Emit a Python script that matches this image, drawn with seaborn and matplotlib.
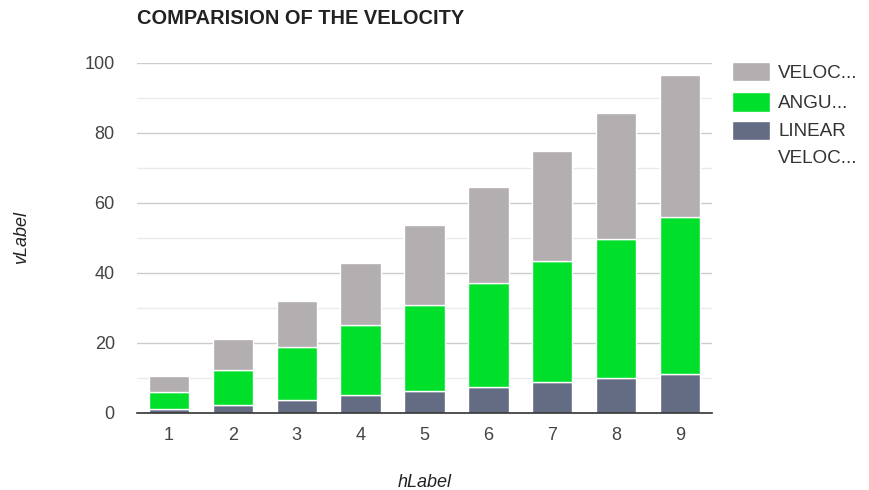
import matplotlib
matplotlib.use("Agg")
import matplotlib.pyplot as plt
import seaborn as sns
import pandas as pd
from matplotlib.patches import Patch, Rectangle
from matplotlib.legend_handler import HandlerPatch
from matplotlib.ticker import MultipleLocator

categories = ["1", "2", "3", "4", "5", "6", "7", "8", "9"]
linear_velocity = [1.0, 2.3, 3.7, 5.0, 6.2, 7.4, 8.8, 9.9, 11.1]
angular = [5.0, 10.0, 15.1, 20.0, 24.7, 29.6, 34.5, 39.6, 44.7]
velocity = [4.4, 8.8, 13.0, 17.7, 22.6, 27.4, 31.6, 36.2, 40.6]
series_labels = ["VELOC...", "ANGU...", "LINEAR\nVELOC..."]

c_vel = "#b3aeaf"
c_ang = "#00e02a"
c_lin = "#636c82"

sns.set_theme(style="white")
plt.rcParams['font.family'] = ['Liberation Sans', 'DejaVu Sans']

df = pd.DataFrame({"cat": categories, "lin": linear_velocity, "ang": angular, "vel": velocity})
df["b_ang"] = df["lin"]
df["b_vel"] = df["lin"] + df["ang"]

fig = plt.figure(figsize=(8.69, 4.9), dpi=100)
ax = fig.add_axes([137/869, 77.3/490, 575/869, 350/490])

common = dict(data=df, x="cat", width=0.63, edgecolor="white", linewidth=1.0, ax=ax)
sns.barplot(y="lin", color=c_lin, saturation=1, **common)
sns.barplot(y="ang", bottom=df["b_ang"], color=c_ang, saturation=1, **common)
sns.barplot(y="vel", bottom=df["b_vel"], color=c_vel, saturation=1, **common)

ax.set_ylim(0, 100)
ax.set_xlim(-0.5, 8.5)
ax.yaxis.set_major_locator(MultipleLocator(20))
ax.yaxis.set_minor_locator(MultipleLocator(10))
ax.grid(axis="y", which="major", color="#cccccc", linewidth=1)
ax.grid(axis="y", which="minor", color="#ebebeb", linewidth=1)
ax.set_axisbelow(True)
for s in ["top", "right", "left"]:
    ax.spines[s].set_visible(False)
ax.spines["bottom"].set_color("#333333")
ax.spines["bottom"].set_linewidth(1.2)
ax.tick_params(axis="both", which="both", length=0, labelsize=13, colors="#444444")
ax.tick_params(axis="x", pad=10)
ax.tick_params(axis="y", pad=16)

ax.set_xlabel("hLabel", fontstyle="italic", fontsize=13, color="#222222", labelpad=22)
ax.set_ylabel("vLabel", fontstyle="italic", fontsize=13, color="#222222", labelpad=39)

fig.text(137/869, 1 - 19/490, "COMPARISION OF THE VELOCITY", fontsize=14.4,
         fontweight="bold", color="#222222", va="center", ha="left")


def top_aligned_patch(legend, orig_handle, xdescent, ydescent, width, height, fontsize):
    return Rectangle((-xdescent, -ydescent + 10.5), width, height)


handles = [Patch(facecolor=c_vel), Patch(facecolor=c_ang), Patch(facecolor=c_lin)]
leg = fig.legend(handles, series_labels, loc="upper left", bbox_to_anchor=(732/869, 1 - 62/490),
                 frameon=False, fontsize=13.6, labelcolor="#333333", handlelength=2.0,
                 handleheight=1.2, handletextpad=0.45, labelspacing=0.55, borderaxespad=0,
                 borderpad=0,
                 handler_map={handles[2]: HandlerPatch(patch_func=top_aligned_patch)})
for t in leg.get_texts():
    t.set_linespacing(1.8)

fig.savefig("out.png", dpi=100)
